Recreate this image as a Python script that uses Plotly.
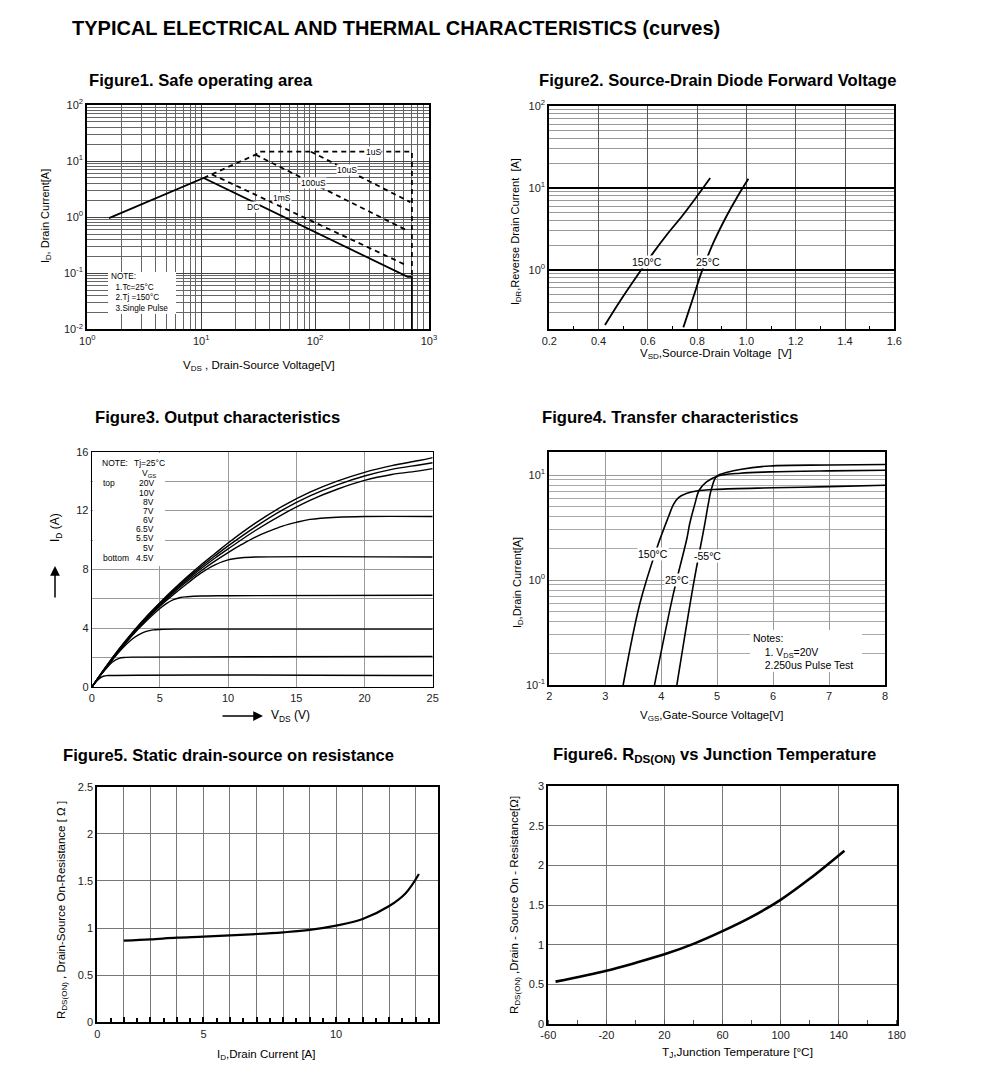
import math
import plotly.graph_objects as go

W, H = 991, 1085
FONT = "Liberation Sans, Arial, sans-serif"

# ---------------- data ----------------
# Figure 1 : Safe operating area (V_DS [V], I_D [A])
soa_dc_v = [1.55, 10.5, 650, 708, 708]
soa_dc_i = [0.96, 5.0, 0.086, 0.086, 0.01]
soa_lim_v = [10.5, 30, 33]
soa_lim_i = [5.0, 13.0, 14.7]
soa_1us_v = [33, 708, 708]
soa_1us_i = [14.7, 14.7, 0.086]
soa_10us_v = [92, 686]
soa_10us_i = [14.7, 1.85]
soa_100us_v = [30, 641]
soa_100us_i = [13.0, 0.58]
soa_1ms_v = [12.4, 641]
soa_1ms_i = [5.8, 0.137]
soa_labels = ["1uS", "10uS", "100uS", "1mS", "DC"]
soa_label_v = [324, 189, 96, 51, 28.7]
soa_label_i = [14.7, 6.94, 4.02, 2.17, 1.54]

# Figure 2 : Source-drain diode forward voltage
diode_150_v = [0.426, 0.49, 0.555, 0.62, 0.68, 0.74, 0.80, 0.853]
diode_150_i = [0.212, 0.427, 0.832, 1.585, 2.754, 4.571, 7.94, 13.2]
diode_25_v = [0.744, 0.785, 0.819, 0.866, 0.920, 0.961, 1.008]
diode_25_i = [0.198, 0.468, 0.955, 2.14, 4.57, 7.59, 12.9]

# Figure 3 : Output characteristics
out_x_top = [0, 1, 2, 3, 4, 5, 6, 7, 8, 9, 10, 12, 14, 16, 18, 20, 22, 24, 25]
out_20v = [0, 1.35, 2.6, 3.75, 4.8, 5.75, 6.65, 7.5, 8.3, 9.05, 9.8, 11.15, 12.3, 13.25, 14.0, 14.6, 15.05, 15.4, 15.6]
out_10v = [0, 1.33, 2.57, 3.7, 4.75, 5.7, 6.58, 7.4, 8.18, 8.9, 9.6, 10.9, 12.05, 13.0, 13.75, 14.35, 14.8, 15.1, 15.25]
out_8v = [0, 1.3, 2.53, 3.66, 4.7, 5.63, 6.5, 7.3, 8.05, 8.75, 9.4, 10.65, 11.75, 12.7, 13.45, 14.05, 14.45, 14.7, 14.85]
out_7v_x = [0, 1, 2, 3, 4, 5, 6, 7, 8, 9, 10, 11, 12, 13, 14, 15, 16, 18, 20, 25]
out_7v = [0, 1.3, 2.5, 3.62, 4.65, 5.57, 6.42, 7.2, 7.9, 8.55, 9.15, 9.7, 10.2, 10.6, 10.95, 11.2, 11.4, 11.55, 11.6, 11.6]
out_6v_x = [0, 1, 2, 3, 4, 5, 6, 7, 8, 9, 10, 11, 12, 25]
out_6v = [0, 1.28, 2.48, 3.58, 4.6, 5.5, 6.3, 7.05, 7.75, 8.3, 8.65, 8.8, 8.85, 8.85]
out_65v_x = [0, 1, 2, 3, 4, 5, 5.5, 6, 6.5, 7, 8, 10, 25]
out_65v = [0, 1.27, 2.45, 3.55, 4.5, 5.35, 5.7, 5.95, 6.1, 6.15, 6.2, 6.22, 6.25]
out_55v_x = [0, 1, 2, 3, 3.5, 4, 4.5, 5, 6, 25]
out_55v = [0, 1.25, 2.4, 3.3, 3.6, 3.8, 3.9, 3.93, 3.95, 3.95]
out_5v_x = [0, 0.5, 1, 1.5, 2, 2.5, 3, 25]
out_5v = [0, 0.65, 1.2, 1.7, 1.97, 2.03, 2.05, 2.1]
out_45v_x = [0, 0.3, 0.6, 0.9, 1.2, 25]
out_45v = [0, 0.35, 0.62, 0.77, 0.8, 0.8]
out_note_vgs = ["20V", "10V", "8V", "7V", "6V", "6.5V", "5.5V", "5V", "4.5V"]

# Figure 4 : Transfer characteristics
tr_150_v = [3.32, 3.62, 3.92, 4.13, 4.22, 4.31, 4.46, 4.63, 5.0, 6.0, 7.0, 8.0]
tr_150_i = [0.1, 0.6, 2.0, 4.0, 5.25, 6.1, 6.7, 7.05, 7.3, 7.55, 7.75, 8.0]
tr_25_v = [3.88, 4.22, 4.46, 4.51, 4.6, 4.68, 4.81, 4.99, 5.41, 5.94, 7.0, 8.0]
tr_25_i = [0.1, 0.75, 2.5, 3.45, 5.25, 7.2, 8.6, 9.7, 10.4, 10.7, 10.95, 11.1]
tr_m55_v = [4.28, 4.57, 4.78, 4.84, 4.9, 4.99, 5.2, 5.41, 5.94, 7.0, 8.0]
tr_m55_i = [0.1, 0.87, 3.45, 5.25, 7.43, 9.7, 10.7, 11.3, 12.2, 12.45, 12.6]

# Figure 5 : Static drain-source on resistance (x in grid units of the original axis)
rds_id = [2.0, 3, 4, 5, 6, 7, 8, 9, 10, 11, 12, 12.62, 13.12]
rds_r = [0.866, 0.88, 0.898, 0.909, 0.923, 0.937, 0.955, 0.98, 1.025, 1.096, 1.234, 1.37, 1.574]

# Figure 6 : RDS(on) vs junction temperature
rt_t = [-55, -20, 0, 20, 40, 60, 80, 100, 120, 144]
rt_r = [0.534, 0.672, 0.770, 0.878, 1.010, 1.170, 1.350, 1.565, 1.830, 2.185]

# tick labels
t6_vals = [-60, -20, 20, 60, 100, 140, 180]
t6_text = ["-60", "-20", "20", "60", "100", "140", "180"]

# ---------------- helpers ----------------
def dom(l, r, t, b):
    return [l / W, r / W], [1 - b / H, 1 - t / H]

def logminor(e0, e1):
    return [m * 10 ** e for e in range(e0, e1) for m in range(2, 10)]

def sup10(e):
    return "10<sup>%d</sup>" % e

annotations = []
shapes = []

def ann(text, px, py, size=10, bold=False, xanchor="center", angle=0, bg=None, align="center"):
    t = "<b>%s</b>" % text if bold else text
    d = dict(text=t, x=px / W, y=1 - py / H, xref="paper", yref="paper",
             xanchor=xanchor, yanchor="middle", showarrow=False, textangle=angle,
             font=dict(family=FONT, size=size, color="black"), align=align, borderpad=0)
    if bg:
        d["bgcolor"] = bg
    annotations.append(d)

def dann(text, x, y, xr, yr, size=9):
    annotations.append(dict(text=text, x=x, y=y, xref=xr, yref=yr, showarrow=False,
                            font=dict(family=FONT, size=size, color="black"),
                            bgcolor="white", borderpad=0))

fig = go.Figure()
line = dict(color="black", width=1.8)

# ---- Figure 1 traces
fig.add_trace(go.Scatter(x=soa_dc_v, y=soa_dc_i, mode="lines", line=line, xaxis="x", yaxis="y"))
for vx, iy in [(soa_lim_v, soa_lim_i), (soa_1us_v, soa_1us_i), (soa_10us_v, soa_10us_i),
               (soa_100us_v, soa_100us_i), (soa_1ms_v, soa_1ms_i)]:
    fig.add_trace(go.Scatter(x=vx, y=iy, mode="lines", line=dict(color="black", width=1.8, dash="5px,4px"),
                             xaxis="x", yaxis="y"))
for t, v, i in zip(soa_labels, soa_label_v, soa_label_i):
    dann(t, math.log10(v), math.log10(i), "x", "y", size=8.5)

# ---- Figure 2 traces
fig.add_trace(go.Scatter(x=diode_150_v, y=diode_150_i, mode="lines", line=line, line_shape="spline",
                         xaxis="x2", yaxis="y2"))
fig.add_trace(go.Scatter(x=diode_25_v, y=diode_25_i, mode="lines", line=line, line_shape="spline",
                         xaxis="x2", yaxis="y2"))
dann("150°C", 0.595, math.log10(1.26), "x2", "y2", size=10.5)
dann("25°C", 0.846, math.log10(1.26), "x2", "y2", size=10.5)

# ---- Figure 3 traces
for xs, ys in [(out_x_top, out_20v), (out_x_top, out_10v), (out_x_top, out_8v), (out_7v_x, out_7v),
               (out_6v_x, out_6v), (out_65v_x, out_65v), (out_55v_x, out_55v), (out_5v_x, out_5v),
               (out_45v_x, out_45v)]:
    fig.add_trace(go.Scatter(x=xs, y=ys, mode="lines", line=dict(color="black", width=1.4),
                             line_shape="spline", xaxis="x3", yaxis="y3"))

# ---- Figure 4 traces
for xs, ys in [(tr_150_v, tr_150_i), (tr_25_v, tr_25_i), (tr_m55_v, tr_m55_i)]:
    fig.add_trace(go.Scatter(x=xs, y=ys, mode="lines", line=dict(color="black", width=1.6),
                             line_shape="spline", xaxis="x4", yaxis="y4"))
dann("150°C", 3.85, math.log10(1.75), "x4", "y4", size=10.5)
dann("25°C", 4.28, math.log10(1.0), "x4", "y4", size=10.5)
dann("-55°C", 4.82, math.log10(1.69), "x4", "y4", size=10.5)

# ---- Figure 5 trace
fig.add_trace(go.Scatter(x=rds_id, y=rds_r, mode="lines", line=dict(color="black", width=2.2),
                         line_shape="spline", xaxis="x5", yaxis="y5"))

# ---- Figure 6 trace
fig.add_trace(go.Scatter(x=rt_t, y=rt_r, mode="lines", line=dict(color="black", width=2.6),
                         line_shape="spline", xaxis="x6", yaxis="y6"))

# ---------------- axes ----------------
tickfont = dict(family=FONT, size=11, color="#222")
layout = {}
common = dict(automargin=False, zeroline=False, tickfont=tickfont)

# Figure 1
dx, dy = dom(87.3, 429, 105, 329.3)
layout["xaxis"] = dict(domain=dx, anchor="y", type="log", range=[0, 3],
                       tickmode="array", tickvals=[1, 10, 100, 1000], ticktext=[sup10(e) for e in range(4)],
                       showgrid=True, gridcolor="#444", gridwidth=1.2,
                       minor=dict(tickmode="array", tickvals=logminor(0, 3), showgrid=True, gridcolor="#666", gridwidth=1),
                       showline=True, mirror=True, linecolor="black", linewidth=2, ticks="", **common)
layout["yaxis"] = dict(domain=dy, anchor="x", type="log", range=[-2, 2],
                       tickmode="array", tickvals=[0.01, 0.1, 1, 10, 100], ticktext=[sup10(e) for e in range(-2, 3)],
                       showgrid=True, gridcolor="#444", gridwidth=1.2,
                       minor=dict(tickmode="array", tickvals=logminor(-2, 2), showgrid=True, gridcolor="#666", gridwidth=1),
                       showline=True, mirror=True, linecolor="black", linewidth=2, ticks="", **common)

# Figure 2
dx, dy = dom(549.3, 894.3, 106, 329.3)
layout["xaxis2"] = dict(domain=dx, anchor="y2", range=[0.2, 1.6], dtick=0.2, tick0=0.2, tickformat=".1f",
                        showgrid=True, gridcolor="#555", gridwidth=1,
                        minor=dict(dtick=0.1, ticks="inside", ticklen=3, tickcolor="black", showgrid=False),
                        showline=True, mirror=True, linecolor="black", linewidth=2, ticks="", **common)
layout["yaxis2"] = dict(domain=dy, anchor="x2", type="log", range=[-0.727, 2],
                        tickmode="array", tickvals=[1, 10, 100], ticktext=[sup10(e) for e in range(0, 3)],
                        showgrid=True, gridcolor="black", gridwidth=1.6,
                        minor=dict(tickmode="array", tickvals=logminor(-1, 2)[1:], showgrid=True, gridcolor="#999", gridwidth=1),
                        showline=True, mirror=True, linecolor="black", linewidth=2, ticks="", **common)

# Figure 3
dx, dy = dom(91.7, 432.7, 451.7, 687.3)
layout["xaxis3"] = dict(domain=dx, anchor="y3", range=[0, 25], dtick=5,
                        showgrid=True, gridcolor="#999", gridwidth=1,
                        showline=True, mirror=True, linecolor="black", linewidth=1, ticks="", **common)
layout["yaxis3"] = dict(domain=dy, anchor="x3", range=[0, 16], dtick=4,
                        showgrid=True, gridcolor="#999", gridwidth=1,
                        minor=dict(dtick=2, showgrid=True, gridcolor="#999", gridwidth=1),
                        showline=True, mirror=True, linecolor="black", linewidth=1, ticks="", **common)

# Figure 4
dx, dy = dom(549.3, 885, 451.7, 685)
layout["xaxis4"] = dict(domain=dx, anchor="y4", range=[2, 8], dtick=1,
                        showgrid=True, gridcolor="#999", gridwidth=1,
                        showline=True, mirror=True, linecolor="black", linewidth=2, ticks="", **common)
layout["yaxis4"] = dict(domain=dy, anchor="x4", type="log", range=[-1, 1.222],
                        tickmode="array", tickvals=[0.1, 1, 10], ticktext=[sup10(e) for e in range(-1, 2)],
                        showgrid=True, gridcolor="#999", gridwidth=1,
                        minor=dict(tickmode="array", tickvals=logminor(-1, 2), showgrid=True, gridcolor="#aaa", gridwidth=1),
                        showline=True, mirror=True, linecolor="black", linewidth=2, ticks="", **common)

# Figure 5
dx, dy = dom(97.3, 438.3, 786.7, 1022.3)
layout["xaxis5"] = dict(domain=dx, anchor="y5", range=[1, 13.85],
                        tickmode="array", tickvals=list(range(1, 14)),
                        ticktext=["0", "", "", "", "5", "", "", "", "", "10", "", "", ""],
                        showgrid=True, gridcolor="#777", gridwidth=1,
                        ticks="inside", ticklen=5, tickwidth=1.5, tickcolor="black",
                        minor=dict(dtick=0.5, tick0=0, ticks="inside", ticklen=4, tickwidth=1.5, tickcolor="black", showgrid=False),
                        showline=True, mirror=True, linecolor="black", linewidth=2, **common)
layout["yaxis5"] = dict(domain=dy, anchor="x5", range=[0, 2.5], dtick=0.5,
                        showgrid=True, gridcolor="#777", gridwidth=1,
                        showline=True, mirror=True, linecolor="black", linewidth=2, ticks="", **common)

# Figure 6
dx, dy = dom(548.3, 896.7, 786, 1024)
layout["xaxis6"] = dict(domain=dx, anchor="y6", range=[-60, 180],
                        tickmode="array", tickvals=t6_vals, ticktext=t6_text,
                        showgrid=True, gridcolor="#777", gridwidth=1,
                        minor=dict(dtick=20, tick0=-60, ticks="inside", ticklen=4, tickcolor="#555", showgrid=False),
                        showline=True, mirror=True, linecolor="black", linewidth=2, ticks="", **common)
layout["yaxis6"] = dict(domain=dy, anchor="x6", range=[0, 3], dtick=0.5,
                        showgrid=True, gridcolor="#777", gridwidth=1,
                        showline=True, mirror=True, linecolor="black", linewidth=2, ticks="", **common)

# ---------------- white note boxes (no curves pass through these regions) ----------------
for (l, t, r, b) in [(108, 272, 176, 314), (93, 453, 165, 566), (750, 630, 862, 672)]:
    shapes.append(dict(type="rect", xref="paper", yref="paper", x0=l / W, x1=r / W, y0=1 - b / H, y1=1 - t / H,
                       fillcolor="white", line=dict(width=0), layer="above"))

# ---------------- titles ----------------
ann("TYPICAL ELECTRICAL AND THERMAL CHARACTERISTICS (curves)", 71, 28, size=20, bold=True, xanchor="left")
ann("Figure1. Safe operating area", 88, 80, size=16.6, bold=True, xanchor="left")
ann("Figure2. Source-Drain Diode Forward Voltage", 538, 80, size=16.6, bold=True, xanchor="left")
ann("Figure3. Output characteristics", 94, 417, size=16.6, bold=True, xanchor="left")
ann("Figure4. Transfer characteristics", 541, 417, size=16.6, bold=True, xanchor="left")
ann("Figure5. Static drain-source on resistance", 62, 755, size=16.6, bold=True, xanchor="left")
ann("Figure6. R<sub>DS(ON)</sub> vs Junction Temperature", 552, 755, size=16.6, bold=True, xanchor="left")

# axis titles
ann("I<sub>D</sub>, Drain Current[A]", 46, 216, size=11, angle=-90)
ann("V<sub>DS</sub> , Drain-Source Voltage[V]", 259, 366, size=11.5)
ann("I<sub>DR</sub>,Reverse Drain Current  [A]", 516, 232, size=11, angle=-90)
ann("V<sub>SD</sub>,Source-Drain Voltage  [V]", 716, 354, size=11.5)
ann("I<sub>D</sub> (A)", 56, 528, size=12, angle=-90)
ann("V<sub>DS</sub> (V)", 270, 716, size=12, xanchor="left")
ann("I<sub>D</sub>,Drain Current[A]", 518, 583, size=11, angle=-90)
ann("V<sub>GS</sub>,Gate-Source Voltage[V]", 711, 716, size=11.5)
ann("R<sub>DS(ON)</sub> , Drain-Source On-Resistance [ Ω ]", 62, 910, size=11.5, angle=-90)
ann("I<sub>D</sub>,Drain Current [A]", 266, 1055, size=11.5)
ann("R<sub>DS(ON)</sub> ,Drain - Source On - Resistance[Ω]", 515, 905, size=11.5, angle=-90)
ann("T<sub>J</sub>,Junction Temperature [°C]", 737, 1052, size=11.8)

# arrows (figure 3)
annotations.append(dict(x=55 / W, y=1 - 566 / H, xref="paper", yref="paper", ax=0, ay=33, text="",
                        showarrow=True, arrowhead=2, arrowsize=1.3, arrowwidth=1.5, arrowcolor="black"))
annotations.append(dict(x=263 / W, y=1 - 716 / H, xref="paper", yref="paper", ax=-42, ay=0, text="",
                        showarrow=True, arrowhead=2, arrowsize=1.3, arrowwidth=1.5, arrowcolor="black"))

# figure 1 note
ann("NOTE:<br>  1.Tc=25°C<br>  2.Tj =150°C<br>  3.Single Pulse", 110, 292, size=8.2, xanchor="left", align="left")

# figure 3 note
ann("NOTE:", 101, 463, size=8.5, xanchor="left")
ann("Tj=25°C", 133, 463, size=8.5, xanchor="left")
ann("V<sub>GS</sub>", 149, 474, size=8.5)
ann("top", 102, 483, size=8.5, xanchor="left")
ann("bottom", 102, 558, size=8.5, xanchor="left")
vgs_y = [483, 492.5, 502, 511, 520, 529, 538, 548, 558]
for t, y in zip(out_note_vgs, vgs_y):
    ann(t, 155, y, size=8.5, xanchor="right")

# figure 4 notes
ann("Notes:<br>    1. V<sub>DS</sub>=20V<br>    2.250us Pulse Test", 752, 651, size=10.5, xanchor="left", align="left")

layout.update(dict(width=W, height=H, autosize=False,
                   margin=dict(l=0, r=0, t=0, b=0, pad=0, autoexpand=False),
                   paper_bgcolor="white", plot_bgcolor="white", showlegend=False,
                   font=dict(family=FONT, color="black"),
                   annotations=annotations, shapes=shapes))
fig.update_layout(**layout)
fig.write_html("out.html", config={"displayModeBar": False, "responsive": False},
               post_script="document.body.style.margin='0';document.body.style.padding='0';"
                           "document.documentElement.style.overflow='hidden';")
